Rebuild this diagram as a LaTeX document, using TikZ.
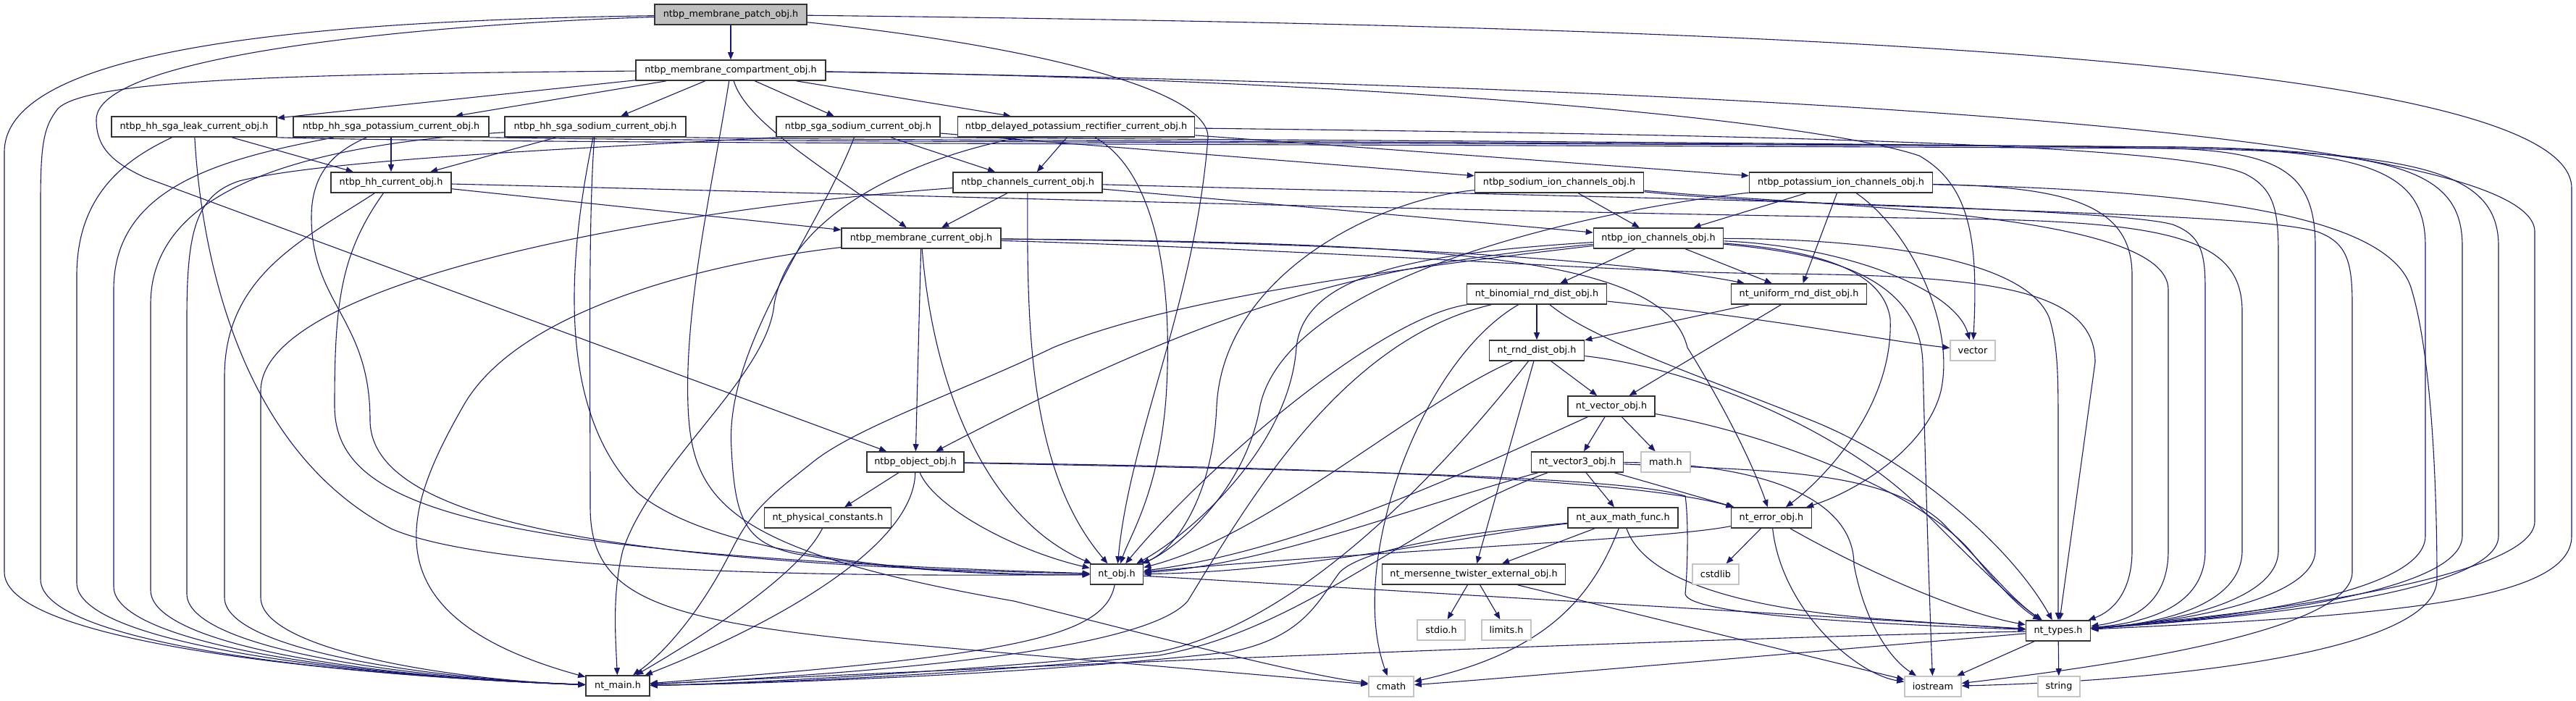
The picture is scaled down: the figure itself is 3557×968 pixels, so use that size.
\documentclass[tikz,border=0pt]{standalone}
\usepackage{fontspec}
\usetikzlibrary{arrows.meta}
\newfontfamily\nodefamily{DejaVu Sans}
\newcommand\nf{\nodefamily\fontsize{12.8}{15}\selectfont}
\definecolor{edgec}{RGB}{25,25,112}
\definecolor{grayfill}{RGB}{191,191,191}
\definecolor{lightbd}{RGB}{196,196,196}
\pgfdeclarelayer{edges}
\pgfsetlayers{edges,main}
\tikzset{
  nd/.style={draw=black!80, line width=1.6pt, fill=white, minimum height=28pt, inner sep=0pt, font=\nf},
  sys/.style={draw=lightbd, line width=1.6pt, fill=white, minimum height=28pt, inner sep=0pt, font=\nf},
  e/.style={draw=edgec, line width=1.1pt, -{Triangle[length=10pt,width=8pt]}}
}
\begin{document}
\begin{tikzpicture}[x=1pt,y=-1pt]
\useasboundingbox (0,0) rectangle (3557,968);
% nodes
\node[nd, fill=grayfill, minimum width=210pt] (patch) at (1009,20) {ntbp\_membrane\_patch\_obj.h};
\node[nd, minimum width=262pt] (comp) at (1009,97) {ntbp\_membrane\_compartment\_obj.h};
\node[nd, minimum width=228pt] (leak) at (268,175) {ntbp\_hh\_sga\_leak\_current\_obj.h};
\node[nd, minimum width=270pt] (hhk) at (540,175) {ntbp\_hh\_sga\_potassium\_current\_obj.h};
\node[nd, minimum width=250pt] (hhna) at (822,175) {ntbp\_hh\_sga\_sodium\_current\_obj.h};
\node[nd, minimum width=226pt] (sgana) at (1185,175) {ntbp\_sga\_sodium\_current\_obj.h};
\node[nd, minimum width=327pt] (delayed) at (1486,175) {ntbp\_delayed\_potassium\_rectifier\_current\_obj.h};
\node[nd, minimum width=166pt] (hhcur) at (540,252) {ntbp\_hh\_current\_obj.h};
\node[nd, minimum width=206pt] (chcur) at (1419,252) {ntbp\_channels\_current\_obj.h};
\node[nd, minimum width=233pt] (naion) at (2153,252) {ntbp\_sodium\_ion\_channels\_obj.h};
\node[nd, minimum width=253pt] (kion) at (2542,252) {ntbp\_potassium\_ion\_channels\_obj.h};
\node[nd, minimum width=220pt] (memcur) at (1272,329) {ntbp\_membrane\_current\_obj.h};
\node[nd, minimum width=179pt] (ionch) at (2290,329) {ntbp\_ion\_channels\_obj.h};
\node[nd, minimum width=193pt] (binom) at (2122,406) {nt\_binomial\_rnd\_dist\_obj.h};
\node[nd, minimum width=187pt] (unif) at (2484,406) {nt\_uniform\_rnd\_dist\_obj.h};
\node[sys, minimum width=62pt] (vector) at (2724,484) {vector};
\node[nd, minimum width=131pt] (rnd) at (2122,484) {nt\_rnd\_dist\_obj.h};
\node[nd, minimum width=134pt] (object) at (1264,638) {ntbp\_object\_obj.h};
\node[nd, minimum width=175pt] (phys) at (1143,715) {nt\_physical\_constants.h};
\node[nd, minimum width=120pt] (vecobj) at (2225,561) {nt\_vector\_obj.h};
\node[nd, minimum width=127pt] (vec3) at (2178,638) {nt\_vector3\_obj.h};
\node[sys, minimum width=68pt] (mathh) at (2300,638) {math.h};
\node[nd, minimum width=152pt] (aux) at (2241,715) {nt\_aux\_math\_func.h};
\node[nd, minimum width=111pt] (error) at (2446,715) {nt\_error\_obj.h};
\node[nd, minimum width=73pt] (ntobj) at (1542,793) {nt\_obj.h};
\node[nd, minimum width=253pt] (mt) at (2035,793) {nt\_mersenne\_twister\_external\_obj.h};
\node[sys, minimum width=64pt] (cstdlib) at (2369,793) {cstdlib};
\node[sys, minimum width=66pt] (stdio) at (1990,870) {stdio.h};
\node[sys, minimum width=68pt] (limits) at (2080,870) {limits.h};
\node[nd, minimum width=89pt] (types) at (2842,871) {nt\_types.h};
\node[nd, minimum width=88pt] (ntmain) at (853,947) {nt\_main.h};
\node[sys, minimum width=62pt] (cmath) at (1921,948) {cmath};
\node[sys, minimum width=78pt] (iostream) at (2669,948) {iostream};
\node[sys, minimum width=58pt] (string) at (2843,948) {string};

\begin{pgfonlayer}{edges}
\fill[white] (0,0) rectangle (3557,968);
% patch
\draw[e] (patch) -- (comp);
\draw[e] (patch) .. controls (500,28) and (6,55) .. (6,210) -- (6,790) .. controls (6,885) and (450,932) .. (ntmain);
\draw[e] (patch) .. controls (550,35) and (133,80) .. (133,165) .. controls (133,200) and (150,222) .. (200,245) -- (object);
\draw[e] (patch) .. controls (1400,60) and (1670,120) .. (1668,190) .. controls (1650,420) and (1560,600) .. (ntobj);
\draw[e] (patch) .. controls (2300,35) and (3551,70) .. (3551,260) -- (3551,740) .. controls (3551,830) and (3300,850) .. (types);
% comp
\draw[e] (comp) -- (leak);
\draw[e] (comp) -- (hhk);
\draw[e] (comp) -- (hhna);
\draw[e] (comp) -- (sgana);
\draw[e] (comp) -- (delayed);
\draw[e] (comp) .. controls (1030,170) and (1150,240) .. (memcur);
\draw[e] (comp) .. controls (985,250) and (945,420) .. (950,560) .. controls (955,690) and (1000,760) .. (1400,830) .. controls (1600,880) and (1780,928) .. (cmath);
\draw[e] (comp) .. controls (400,102) and (120,110) .. (80,150) .. controls (60,175) and (56,200) .. (56,280) -- (56,800) .. controls (56,888) and (460,933) .. (ntmain);
\draw[e] (comp) .. controls (1900,110) and (2500,165) .. (2650,215) .. controls (2720,255) and (2732,330) .. (vector);
\draw[e] (comp) .. controls (2400,120) and (3500,180) .. (3500,320) -- (3500,720) .. controls (3500,800) and (3100,850) .. (types);
% leak
\draw[e] (leak) -- (hhcur);
\draw[e] (leak) .. controls (185,215) and (106,260) .. (106,380) -- (106,805) .. controls (106,888) and (480,934) .. (ntmain);
\draw[e] (leak) .. controls (278,350) and (330,620) .. (540,730) .. controls (700,800) and (1300,795) .. (ntobj);
\draw[e] (leak.south east) .. controls (700,199) and (2000,199) .. (3000,205) .. controls (3350,210) and (3450,240) .. (3450,340) -- (3450,740) .. controls (3450,830) and (3000,860) .. (types);
% hhk
\draw[e] (hhk) -- (hhcur);
\draw[e] (hhk) .. controls (300,220) and (157,260) .. (157,400) -- (157,810) .. controls (157,890) and (500,935) .. (ntmain);
\draw[e] (hhk) .. controls (460,210) and (430,240) .. (430,300) .. controls (430,420) and (511,440) .. (511,580) .. controls (511,710) and (800,778) .. (ntobj);
\draw[e] (hhk.south east) .. controls (1100,197) and (2100,197) .. (3000,203) .. controls (3320,207) and (3400,240) .. (3400,340) -- (3400,740) .. controls (3400,830) and (3000,860) .. (types);
% hhna
\draw[e] (hhna) -- (hhcur);
\draw[e] (hhna) .. controls (420,200) and (208,260) .. (208,420) -- (208,815) .. controls (208,892) and (520,936) .. (ntmain);
\draw[e] (hhna) .. controls (790,330) and (760,560) .. (880,680) .. controls (1000,780) and (1350,795) .. (ntobj);
\draw[e] (hhna) .. controls (812,300) and (815,520) .. (815,700) .. controls (815,820) and (900,855) .. (1200,885) .. controls (1500,912) and (1780,935) .. (cmath);
\draw[e] (hhna.south east) .. controls (1300,195) and (2200,196) .. (3000,203) .. controls (3280,207) and (3349,240) .. (3349,340) -- (3349,740) .. controls (3349,830) and (3000,860) .. (types);
% sgana
\draw[e] (sgana) -- (chcur);
\draw[e] (sgana) -- (naion);
\draw[e] (sgana.south west) .. controls (800,205) and (450,220) .. (330,250) .. controls (270,270) and (258,320) .. (258,440) -- (258,820) .. controls (258,895) and (560,937) .. (ntmain);
\draw[e] (sgana) .. controls (1130,320) and (1000,480) .. (1010,620) .. controls (1015,720) and (1030,750) .. (1100,765) .. controls (1250,790) and (1400,795) .. (ntobj);
\draw[e] (sgana.south east) .. controls (1800,194) and (2600,197) .. (3000,205) .. controls (3150,210) and (3197,240) .. (3197,340) -- (3197,760) .. controls (3197,830) and (3000,860) .. (types);
% delayed
\draw[e] (delayed) -- (chcur);
\draw[e] (delayed) -- (kion);
\draw[e] (delayed) .. controls (1250,220) and (1090,300) .. (1069,420) .. controls (1060,520) and (900,640) .. (860,760) .. controls (845,820) and (850,880) .. (ntmain);
\draw[e] (delayed) .. controls (1600,240) and (1620,400) .. (1610,550) .. controls (1600,680) and (1560,740) .. (ntobj);
\draw[e] (delayed) .. controls (2300,185) and (3000,195) .. (3100,240) .. controls (3140,260) and (3146,290) .. (3146,350) -- (3146,760) .. controls (3146,830) and (3000,860) .. (types);
% hhcur
\draw[e] (hhcur) -- (memcur);
\draw[e] (hhcur) .. controls (420,330) and (310,380) .. (310,520) -- (310,825) .. controls (310,898) and (600,938) .. (ntmain);
\draw[e] (hhcur) .. controls (470,350) and (462,420) .. (462,560) .. controls (462,700) and (650,765) .. (ntobj);
\draw[e] (hhcur) .. controls (1200,268) and (2000,292) .. (2700,302) .. controls (3000,306) and (3096,330) .. (3096,430) -- (3096,760) .. controls (3096,830) and (3000,860) .. (types);
% chcur
\draw[e] (chcur) -- (memcur);
\draw[e] (chcur) -- (ionch);
\draw[e] (chcur) .. controls (900,290) and (360,390) .. (360,540) -- (360,825) .. controls (360,900) and (640,940) .. (ntmain);
\draw[e] (chcur) .. controls (1418,450) and (1420,650) .. (ntobj);
\draw[e] (chcur) .. controls (2000,268) and (2900,282) .. (3000,310) .. controls (3040,325) and (3045,350) .. (3045,400) -- (3045,760) .. controls (3045,830) and (2980,858) .. (types);
% naion
\draw[e] (naion) -- (ionch);
\draw[e] (naion) .. controls (1900,275) and (1690,380) .. (1680,560) .. controls (1675,690) and (1620,760) .. (ntobj);
\draw[e] (naion) .. controls (2500,285) and (2994,290) .. (2994,400) -- (2994,760) .. controls (2994,830) and (2950,856) .. (types);
\draw[e] (naion) .. controls (2500,290) and (3100,290) .. (3200,320) .. controls (3240,335) and (3248,360) .. (3248,420) -- (3248,790) .. controls (3248,860) and (3000,910) .. (iostream);
% kion
\draw[e] (kion) -- (ionch);
\draw[e] (kion) -- (unif);
\draw[e] (kion) .. controls (2640,320) and (2700,450) .. (2680,540) .. controls (2660,620) and (2560,680) .. (error);
\draw[e] (kion) .. controls (2200,290) and (1780,380) .. (1740,560) .. controls (1720,680) and (1620,760) .. (ntobj);
\draw[e] (kion) .. controls (2850,258) and (2944,280) .. (2944,380) -- (2944,760) .. controls (2944,820) and (2915,845) .. (types);
\draw[e] (kion) .. controls (3000,262) and (3300,290) .. (3330,400) .. controls (3360,500) and (3365,700) .. (3365,800) .. controls (3365,900) and (3000,940) .. (iostream);
% memcur
\draw[e] (memcur) -- (object);
\draw[e] (memcur) .. controls (1000,360) and (720,420) .. (640,560) .. controls (560,700) and (500,850) .. (ntmain);
\draw[e] (memcur) .. controls (1290,550) and (1370,720) .. (ntobj);
\draw[e] (memcur) .. controls (2000,335) and (2300,355) .. (2330,480) .. controls (2380,560) and (2420,640) .. (error);
\draw[e] (memcur) .. controls (1900,335) and (2250,360) .. (unif);
\draw[e] (memcur) .. controls (1900,348) and (2200,375) .. (2450,378) .. controls (2750,380) and (2893,400) .. (2893,500) -- (types);
% ionch
\draw[e] (ionch) -- (binom);
\draw[e] (ionch) -- (unif);
\draw[e] (ionch) .. controls (1900,365) and (1700,410) .. (object);
\draw[e] (ionch) .. controls (1850,380) and (1600,420) .. (1454,480) .. controls (1330,540) and (1180,590) .. (1120,640) .. controls (1070,680) and (1040,700) .. (1010,760) .. controls (970,840) and (920,900) .. (ntmain);
\draw[e] (ionch) .. controls (1950,350) and (1800,380) .. (1790,480) .. controls (1780,620) and (1640,740) .. (ntobj);
\draw[e] (ionch) .. controls (2550,340) and (2700,400) .. (vector);
\draw[e] (ionch) .. controls (2500,345) and (2600,370) .. (2610,440) .. controls (2615,560) and (2520,660) .. (error);
\draw[e] (ionch) .. controls (2520,350) and (2650,380) .. (2655,500) .. controls (2660,700) and (2665,850) .. (iostream);
\draw[e] (ionch) .. controls (2600,330) and (2800,360) .. (2830,440) .. controls (2842,480) and (2842,520) .. (2842,600) -- (types);
% binom
\draw[e] (binom) -- (rnd);
\draw[e] (binom) .. controls (2450,440) and (2600,470) .. (vector);
\draw[e] (binom) .. controls (1960,500) and (1860,780) .. (cmath);
\draw[e] (binom) .. controls (1850,470) and (1720,700) .. (1640,830) .. controls (1580,900) and (1200,930) .. (ntmain);
\draw[e] (binom) .. controls (1900,440) and (1660,650) .. (ntobj);
\draw[e] (binom) .. controls (2200,470) and (2350,520) .. (2500,580) .. controls (2650,640) and (2780,760) .. (types);
% unif
\draw[e] (unif) -- (rnd);
\draw[e] (unif) -- (vecobj);
% rnd
\draw[e] (rnd) -- (vecobj);
\draw[e] (rnd) -- (mt);
\draw[e] (rnd) .. controls (1950,560) and (1750,740) .. (ntobj);
\draw[e] (rnd) .. controls (2000,640) and (1800,860) .. (1600,900) .. controls (1300,930) and (1000,945) .. (ntmain);
\draw[e] (rnd) .. controls (2350,510) and (2550,600) .. (2650,700) .. controls (2720,770) and (2780,830) .. (types);
% vecobj
\draw[e] (vecobj) -- (vec3);
\draw[e] (vecobj) -- (mathh);
\draw[e] (vecobj) .. controls (2050,640) and (1800,760) .. (ntobj);
\draw[e] (vecobj) .. controls (2450,600) and (2650,680) .. (2720,760) .. controls (2760,810) and (2790,840) .. (types);
% vec3
\draw[e] (vec3) -- (aux);
\draw[e] (vec3) -- (error);
\draw[e] (vec3) .. controls (1950,700) and (1750,780) .. (ntobj);
\draw[e] (vec3) .. controls (1950,720) and (1800,870) .. (1600,905) .. controls (1300,935) and (1000,945) .. (ntmain);
\draw[e] (vec3) .. controls (2440,640) and (2560,690) .. (2560,780) .. controls (2575,860) and (2610,910) .. (iostream);
\draw[e] (vec3) .. controls (2450,650) and (2600,650) .. (2680,720) .. controls (2740,780) and (2780,830) .. (types);
% aux
\draw[e] (aux) -- (mt);
\draw[e] (aux) .. controls (2050,735) and (1800,790) .. (ntobj);
\draw[e] (aux) .. controls (2000,738) and (1880,760) .. (1850,790) .. controls (1820,830) and (1800,880) .. (1700,900) .. controls (1400,935) and (1000,945) .. (ntmain);
\draw[e] (aux) .. controls (2200,820) and (2140,900) .. (cmath);
\draw[e] (aux) .. controls (2270,800) and (2400,840) .. (2600,855) .. controls (2700,862) and (2750,866) .. (types);
% error
\draw[e] (error) -- (cstdlib);
\draw[e] (error) .. controls (2300,745) and (1900,760) .. (ntobj);
\draw[e] (error) .. controls (2460,840) and (2560,930) .. (iostream);
\draw[e] (error) .. controls (2560,780) and (2700,845) .. (types);
% object
\draw[e] (object) -- (phys);
\draw[e] (object) .. controls (1290,700) and (1400,760) .. (ntobj);
\draw[e] (object) .. controls (1262,760) and (1050,870) .. (ntmain);
\draw[e] (object) .. controls (1800,645) and (2250,660) .. (error);
\draw[e] (object) .. controls (1900,650) and (2250,660) .. (2327,685) .. controls (2332,720) and (2330,790) .. (2327,820) .. controls (2330,850) and (2600,862) .. (types);
% phys
\draw[e] (phys) .. controls (1100,800) and (950,890) .. (ntmain);
% mt
\draw[e] (mt) -- (stdio);
\draw[e] (mt) -- (limits);
\draw[e] (mt) -- (iostream);
% ntobj
\draw[e] (ntobj) .. controls (1525,880) and (1400,905) .. (ntmain);
\draw[e] (ntobj) .. controls (2000,820) and (2500,850) .. (types);
% types
\draw[e] (types) .. controls (2400,880) and (1500,915) .. (ntmain);
\draw[e] (types) .. controls (2500,900) and (2100,935) .. (cmath);
\draw[e] (types) -- (iostream);
\draw[e] (types) -- (string);
\end{pgfonlayer}
\end{tikzpicture}
\end{document}
